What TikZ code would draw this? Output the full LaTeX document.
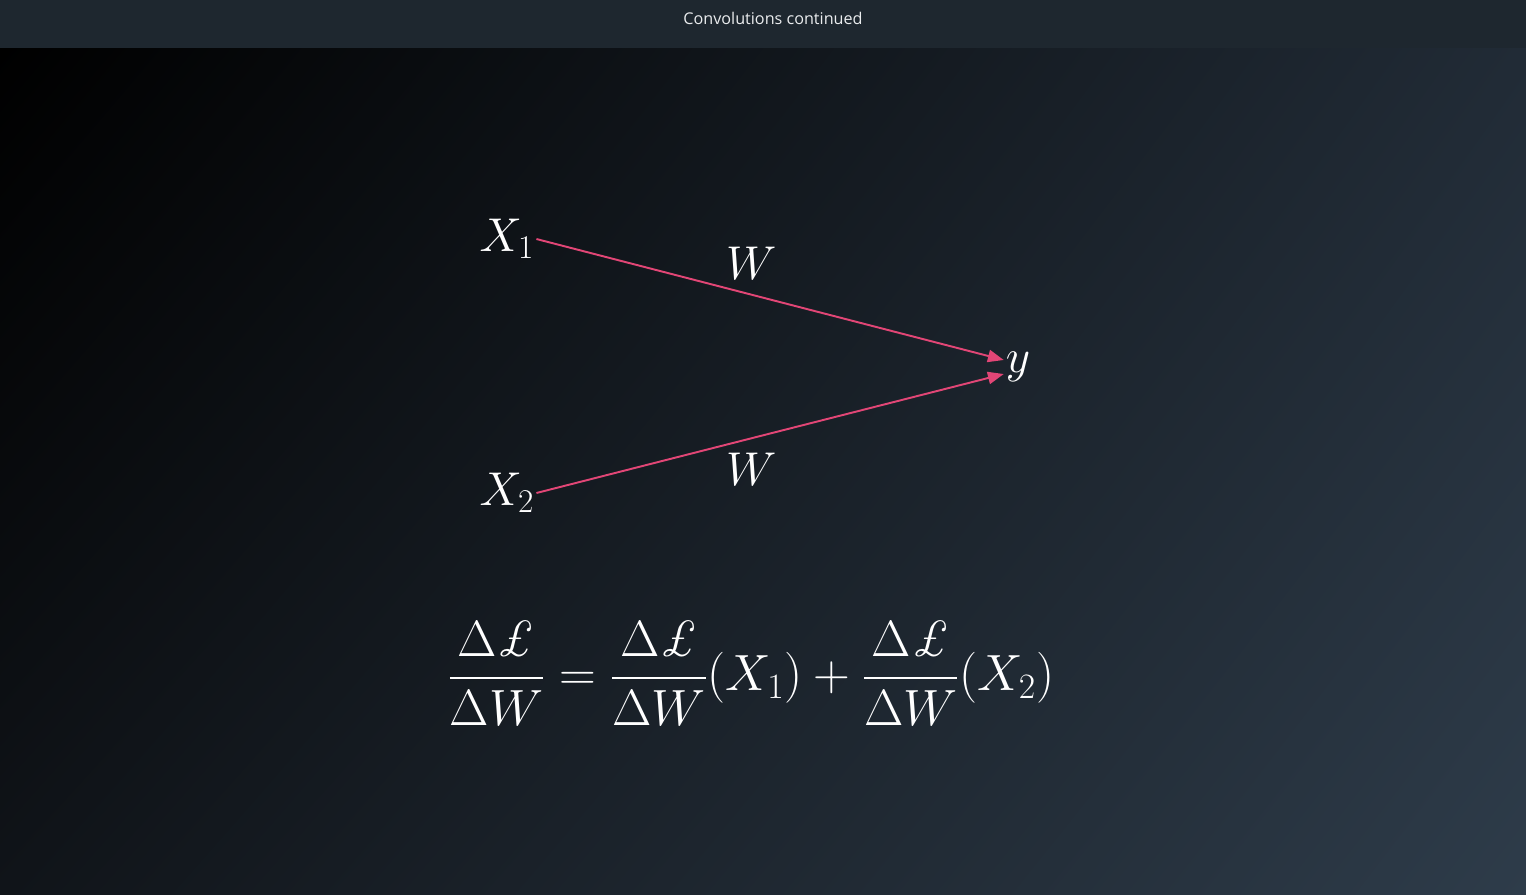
\documentclass[tikz,border=0pt]{standalone}
\usepackage{fix-cm}
\usepackage{amsmath}
\usepackage{fontspec}
\newfontfamily\titlefont{Open Sans}
\usetikzlibrary{arrows.meta,positioning,shadings}

\definecolor{barcol}{RGB}{30,39,47}
\definecolor{bgtl}{RGB}{0,0,0}
\definecolor{bgtr}{RGB}{33,43,54}
\definecolor{bgbl}{RGB}{16,20,25}
\definecolor{bgbr}{RGB}{46,60,74}
\definecolor{linkpink}{RGB}{226,70,118}
\definecolor{titletext}{RGB}{234,236,238}

\begin{document}
\begin{tikzpicture}[x=0.02cm, y=-0.02cm,
    mathlabel/.style={text=white, font=\fontsize{27}{32}\selectfont, inner sep=1pt},
    eqlabel/.style={text=white, font=\fontsize{29}{35}\selectfont, inner sep=0pt},
    link/.style={-{Triangle[length=9pt, width=7pt]}, linkpink, line width=1.1pt},
    >=Stealth
]
% background and title bar
\useasboundingbox (0,0) rectangle (1526,894);
\shade[upper left=bgtl, upper right=bgtr, lower left=bgbl, lower right=bgbr] (0,48) rectangle (1526,894);
\fill[barcol] (0,0) rectangle (1526,48);
\node[text=titletext, font=\titlefont\fontsize{9.2}{11}\selectfont] (title) at (773,18) {Convolutions continued};

% inputs and output
\node[mathlabel] (x1) at (507,239) {$X_1$};
\node[mathlabel] (x2) at (507,493) {$X_2$};
\node[mathlabel] (y) at (1018,367) {$y$};

\draw[link] (x1.east) -- ([yshift=4pt]y.west) node[mathlabel, pos=0.46, above=7pt] (w1) {$W$};
\draw[link] (x2.east) -- ([yshift=-4pt]y.west) node[mathlabel, pos=0.46, below=7pt] (w2) {$W$};

% gradient rule
\node[eqlabel] (eq) at (751,673) {$\displaystyle \frac{\Delta \text{\normalfont\itshape £}}{\Delta W} = \frac{\Delta \text{\normalfont\itshape £}}{\Delta W}(X_1) + \frac{\Delta \text{\normalfont\itshape £}}{\Delta W}(X_2)$};
\end{tikzpicture}
\end{document}
